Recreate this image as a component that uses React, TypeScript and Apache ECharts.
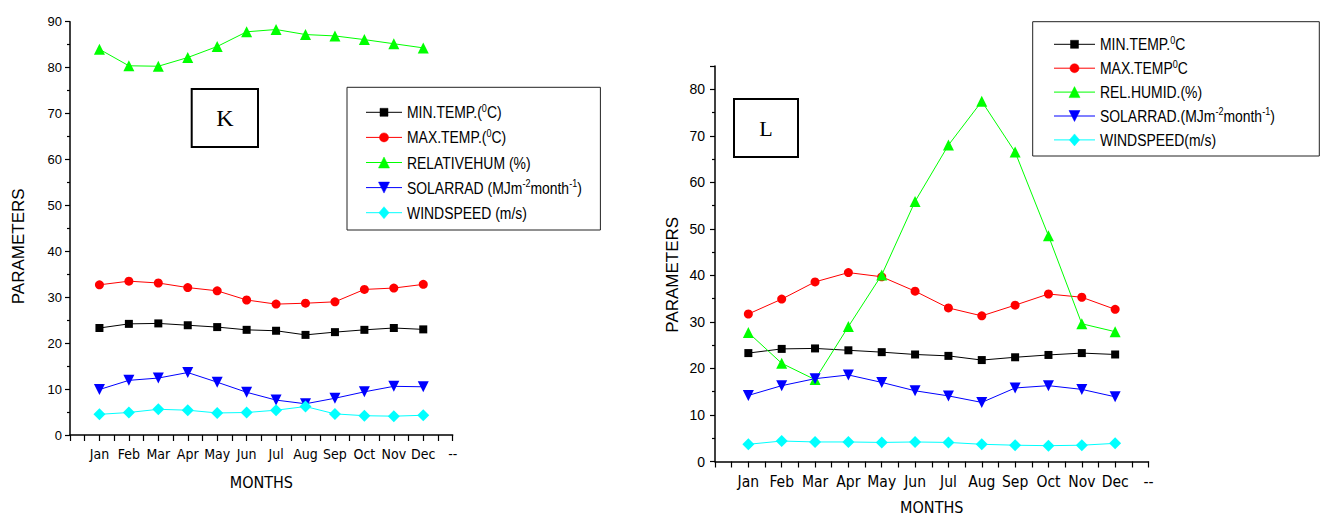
import React, { useEffect, useRef } from "react";
import * as echarts from "echarts";

const months = ["Jan", "Feb", "Mar", "Apr", "May", "Jun", "Jul", "Aug", "Sep", "Oct", "Nov", "Dec"];
const endTickLabel = "--";

// Panel K
const kNames = ["MIN.TEMP.(⁰C)", "MAX.TEMP.(⁰C)", "RELATIVEHUM (%)", "SOLARRAD (MJm⁻²month⁻¹)", "WINDSPEED (m/s)"];
const kMin = [23.3, 24.2, 24.3, 23.9, 23.5, 22.9, 22.7, 21.8, 22.4, 22.9, 23.3, 23.0];
const kMax = [32.7, 33.5, 33.1, 32.1, 31.4, 29.4, 28.5, 28.7, 29.0, 31.7, 32.0, 32.8];
const kRH = [84.0, 80.4, 80.3, 82.2, 84.6, 87.8, 88.3, 87.2, 86.9, 86.1, 85.2, 84.3];
const kSolar = [9.9, 11.9, 12.4, 13.6, 11.5, 9.3, 7.6, 6.8, 8.0, 9.4, 10.6, 10.5];
const kWind = [4.5, 4.9, 5.6, 5.4, 4.8, 4.9, 5.4, 6.2, 4.6, 4.2, 4.1, 4.3];

// Panel L
const lNames = ["MIN.TEMP.⁰C", "MAX.TEMP⁰C", "REL.HUMID.(%)", "SOLARRAD.(MJm⁻²month⁻¹)", "WINDSPEED(m/s)"];
const lMin = [23.3, 24.2, 24.3, 23.9, 23.5, 23.0, 22.7, 21.8, 22.4, 22.9, 23.3, 23.0];
const lMax = [31.7, 34.9, 38.6, 40.6, 39.7, 36.6, 33.0, 31.3, 33.6, 36.0, 35.3, 32.7];
const lRH = [27.7, 21.1, 17.6, 29.0, 40.1, 55.9, 68.0, 77.4, 66.5, 48.5, 29.6, 27.9];
const lSolar = [14.2, 16.3, 17.8, 18.6, 17.0, 15.2, 14.1, 12.7, 15.8, 16.3, 15.5, 13.9];
const lWind = [3.7, 4.4, 4.2, 4.2, 4.1, 4.2, 4.1, 3.7, 3.5, 3.4, 3.5, 3.9];

const NARROW = "'Liberation Sans Narrow', 'Arial Narrow', 'DejaVu Sans Condensed', sans-serif";
const SANS = "'Liberation Sans', Arial, sans-serif";

const styles = [
  { color: "#000000", symbol: "rect", size: 8, rotate: 0 },
  { color: "#ff0000", symbol: "circle", size: 9, rotate: 0 },
  { color: "#00ff00", symbol: "triangle", size: 11, rotate: 0 },
  { color: "#0000ff", symbol: "triangle", size: 11, rotate: 180 },
  { color: "#00ffff", symbol: "diamond", size: 12, rotate: 0 },
];

const supMap: Record<string, string> = { "⁰": "0", "¹": "1", "²": "2", "⁻": "-" };

// Unicode superscripts -> small raised rich-text fragments
function richName(name: string) {
  return name
    .split(/([⁰¹²⁻]+)/)
    .filter((p) => p.length > 0)
    .map((p) =>
      /^[⁰¹²⁻]+$/.test(p)
        ? `{s|${p.split("").map((c) => supMap[c]).join("")}}`
        : `{n|${p}}`
    )
    .join("");
}

const legendRich = {
  n: { fontFamily: SANS, fontSize: 17, lineHeight: 20, fill: "#000" },
  s: { fontFamily: SANS, fontSize: 11, lineHeight: 11, verticalAlign: "top", fill: "#000" },
};

function legendMarker(i: number, cx: number, cy: number) {
  const st = styles[i];
  const h = st.size / 2;
  const style = { fill: st.color, stroke: st.color, lineWidth: 0.5 };
  if (st.symbol === "rect") return { type: "rect", shape: { x: cx - h, y: cy - h, width: st.size, height: st.size }, style };
  if (st.symbol === "circle") return { type: "circle", shape: { cx, cy, r: h }, style };
  if (st.symbol === "diamond")
    return { type: "polygon", shape: { points: [[cx, cy - h], [cx + h * 0.85, cy], [cx, cy + h], [cx - h * 0.85, cy]] }, style };
  if (st.rotate === 180)
    return { type: "polygon", shape: { points: [[cx - h, cy - h], [cx + h, cy - h], [cx, cy + h]] }, style };
  return { type: "polygon", shape: { points: [[cx, cy - h], [cx + h, cy + h], [cx - h, cy + h]] }, style };
}

function legendGraphic(names: string[], x0: number, lineW: number, textX: number, y0: number, dy: number) {
  const out: any[] = [];
  names.forEach((name, i) => {
    const y = y0 + i * dy;
    out.push({
      type: "line",
      shape: { x1: x0, y1: y, x2: x0 + lineW, y2: y },
      style: { stroke: styles[i].color, lineWidth: 1 },
    });
    out.push(legendMarker(i, x0 + lineW / 2, y));
    out.push({
      type: "text",
      x: textX,
      y,
      scaleX: 0.82,
      style: {
        text: richName(name),
        rich: legendRich,
        fill: "#000",
        textAlign: "left",
        textVerticalAlign: "middle",
      },
    });
  });
  return out;
}

function makeSeries(names: string[], data: number[][], idx: number) {
  return names.map((name, i) => ({
    name,
    type: "line",
    xAxisIndex: idx,
    yAxisIndex: idx,
    data: data[i].map((v, j) => [j + 1, v]),
    symbol: styles[i].symbol,
    symbolSize: styles[i].size,
    symbolRotate: styles[i].rotate,
    showAllSymbol: true,
    lineStyle: { color: styles[i].color, width: 1 },
    itemStyle: { color: styles[i].color },
    emphasis: { disabled: true },
  }));
}

function xAxis(idx: number, fontSize: number, nameGap: number) {
  return {
    type: "value",
    gridIndex: idx,
    min: 0,
    max: 13,
    interval: 1,
    name: "MONTHS",
    nameLocation: "middle",
    nameGap,
    nameTextStyle: { fontFamily: NARROW, fontSize: 16, color: "#000" },
    axisLine: { show: true, onZero: false, lineStyle: { color: "#000", width: 1.5 } },
    axisTick: { show: true, inside: false, length: 6, lineStyle: { color: "#000", width: 1.2 } },
    minorTick: { show: true, splitNumber: 2, length: 6, lineStyle: { color: "#000", width: 1.2 } },
    splitLine: { show: false },
    axisLabel: {
      margin: 12,
      fontFamily: NARROW,
      fontSize,
      color: "#000",
      showMinLabel: true,
      showMaxLabel: true,
      formatter: (v: number) => (v >= 1 && v <= 12 ? months[v - 1] : v === 13 ? endTickLabel : ""),
    },
  };
}

function yAxis(idx: number, max: number, nameGap: number, labelSize: number, margin: number, shift: number) {
  return {
    type: "value",
    gridIndex: idx,
    min: 0,
    max,
    interval: 10,
    name: "PARAMETERS",
    nameLocation: "middle",
    nameGap,
    nameRotate: 90,
    nameTextStyle: { fontFamily: SANS, fontSize: 17, color: "#000", padding: [0, shift, 0, 0] },
    axisLine: { show: true, lineStyle: { color: "#000", width: 1.5 } },
    axisTick: { show: true, inside: false, length: 5, lineStyle: { color: "#000", width: 1.2 } },
    minorTick: { show: true, splitNumber: 2, length: 3, lineStyle: { color: "#000", width: 1.2 } },
    splitLine: { show: false },
    axisLabel: {
      margin,
      fontFamily: SANS,
      fontSize: labelSize,
      color: "#000",
      showMaxLabel: true,
      formatter: (v: number) => (v % 10 === 0 ? String(v) : ""),
    },
  };
}

export default function App() {
  const ref = useRef<HTMLDivElement>(null);
  useEffect(() => {
    if (!ref.current) return;
    const chart = echarts.init(ref.current, null, { renderer: "svg" });
    const option = {
      animation: false,
      backgroundColor: "#ffffff",
      grid: [
        { left: 70, top: 21.7, width: 382.7, height: 413.3, outerBoundsMode: "none", containLabel: false },
        { left: 715, top: 66, width: 433.5, height: 395.5, outerBoundsMode: "none", containLabel: false },
      ],
      xAxis: [xAxis(0, 14, 39), xAxis(1, 15.5, 38)],
      yAxis: [yAxis(0, 90, 43, 13, 8, 36), yAxis(1, 85, 34, 14, 10, 22)],
      graphic: [
        {
          type: "rect",
          shape: { x: 347, y: 87.3, width: 253.4, height: 142.7 },
          style: { fill: "none", stroke: "#222", lineWidth: 1 },
        },
        {
          type: "rect",
          shape: { x: 1032.7, y: 21.7, width: 286.6, height: 134.3 },
          style: { fill: "none", stroke: "#222", lineWidth: 1 },
        },
        ...legendGraphic(kNames, 366, 36, 407, 112.3, 25.1),
        ...legendGraphic(lNames, 1054, 41, 1100, 44.3, 23.9),
        {
          type: "rect",
          shape: { x: 191.7, y: 89, width: 66.3, height: 58 },
          style: { fill: "#fff", stroke: "#000", lineWidth: 2 },
        },
        {
          type: "text",
          x: 224.8,
          y: 118,
          style: {
            text: "K",
            font: "24px 'Liberation Serif', 'Times New Roman', serif",
            fill: "#000",
            textAlign: "center",
            textVerticalAlign: "middle",
          },
        },
        {
          type: "rect",
          shape: { x: 734, y: 99, width: 64, height: 58 },
          style: { fill: "#fff", stroke: "#000", lineWidth: 2 },
        },
        {
          type: "text",
          x: 766,
          y: 128,
          style: {
            text: "L",
            font: "22px 'Liberation Serif', 'Times New Roman', serif",
            fill: "#000",
            textAlign: "center",
            textVerticalAlign: "middle",
          },
        },
      ],
      series: [
        ...makeSeries(kNames, [kMin, kMax, kRH, kSolar, kWind], 0),
        ...makeSeries(lNames, [lMin, lMax, lRH, lSolar, lWind], 1),
      ],
    };
    chart.setOption(option as any);
    return () => chart.dispose();
  }, []);
  return (
    <div
      ref={ref}
      style={{ position: "absolute", left: 0, top: 0, width: 1322, height: 516 }}
    />
  );
}
